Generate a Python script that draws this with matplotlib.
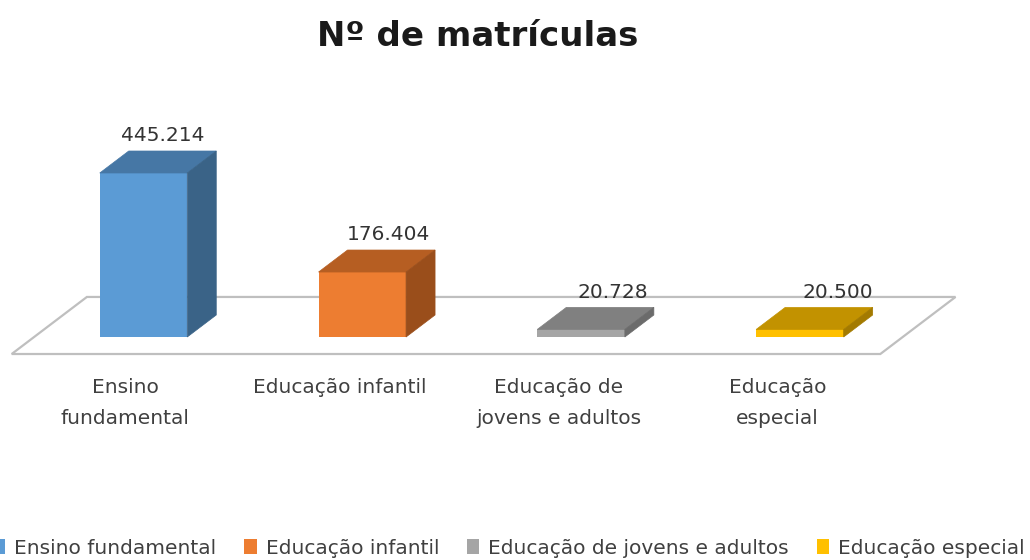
import matplotlib
matplotlib.use("Agg")
import matplotlib.pyplot as plt
from matplotlib.patches import Polygon, Patch

# ---------------- data ----------------
categories = ["Ensino fundamental", "Educação infantil",
              "Educação de jovens e adultos", "Educação especial"]
axis_labels = ["Ensino\nfundamental", "Educação infantil",
               "Educação de\njovens e adultos", "Educação\nespecial"]
values = [445214, 176404, 20728, 20500]
value_labels = ["445.214", "176.404", "20.728", "20.500"]

front_colors = ["#5B9BD5", "#ED7D31", "#A5A5A5", "#FFC000"]
top_colors = ["#4677A5", "#B65E22", "#808080", "#C29200"]
side_colors = ["#3A6387", "#9A4E1B", "#6B6B6B", "#A37A00"]

# ---------------- layout (pixels) ----------------
W, H, DPI = 1030, 560, 100
x0_px, step_px = 143.5, 218.8          # first category centre, spacing
base_px = 337.0                          # pixel row of value 0 (front)
px_per_unit = 164.0 / 445214.0           # vertical scale
depth_px = (29.0, 22.0)                  # bar depth offset (right, up)
bar_width = 0.4

fig = plt.figure(figsize=(W / DPI, H / DPI), dpi=DPI)
ax = fig.add_axes([0, 0, 1, 1])
ax.set_axis_off()
ax.set_xlim(-x0_px / step_px, (W - x0_px) / step_px)
ax.set_ylim((base_px - H) / px_per_unit, base_px / px_per_unit)

ddx = depth_px[0] / step_px
ddy = depth_px[1] / px_per_unit


def P(x, y, d):
    """point at category position x, value y, depth d (in bar depths)"""
    return (x + d * ddx, y + d * ddy)


# floor
n = len(values)
f_front, f_back = -0.773, 1.82
floor_left, floor_right = -0.5, n - 0.53
floor = Polygon([P(floor_left, 0, f_front), P(floor_right, 0, f_front),
                 P(floor_right, 0, f_back), P(floor_left, 0, f_back)],
                closed=True, facecolor="white", edgecolor="#BFBFBF",
                linewidth=1.6, zorder=1)
ax.add_patch(floor)

# bars
xs = list(range(n))
ax.bar(xs, values, width=bar_width, color=front_colors, zorder=3,
       linewidth=0)
for i, v in enumerate(values):
    l, r = i - bar_width / 2, i + bar_width / 2
    ax.add_patch(Polygon([P(l, v, 0), P(r, v, 0), P(r, v, 1), P(l, v, 1)],
                         closed=True, facecolor=top_colors[i],
                         edgecolor=top_colors[i], linewidth=0.5, zorder=3))
    ax.add_patch(Polygon([P(r, 0, 0), P(r, v, 0), P(r, v, 1), P(r, 0, 1)],
                         closed=True, facecolor=side_colors[i],
                         edgecolor=side_colors[i], linewidth=0.5, zorder=3))
    # value label
    lx, ly = P(i, v, 1)
    ax.annotate(value_labels[i], (lx, ly),
                xytext=((i - 1.5) * 4.5, 7), textcoords="offset points",
                ha="center", va="baseline", fontsize=14.5, color="#333333",
                zorder=5)
    # category label
    cx, cy = P(i, 0, f_front)
    ax.annotate(axis_labels[i], (cx, cy), xytext=(3 if i == 0 else 0, -17),
                textcoords="offset points", ha="center", va="top",
                fontsize=14.5, color="#404040", linespacing=1.8)

# title
fig.text(478 / W, 1 - 36 / H, "Nº de matrículas", ha="center", va="center",
         fontsize=24.5, fontweight="bold", color="#1A1A1A")

# legend
handles = [Patch(facecolor=c, edgecolor="none") for c in front_colors]
fig.legend(handles, categories, loc="center", ncol=4, frameon=False,
           bbox_to_anchor=(509 / W, 1 - 548 / H), fontsize=14.5,
           handlelength=0.6, handleheight=0.75, handletextpad=0.45,
           columnspacing=1.4, labelcolor="#404040")

fig.savefig("out.png", dpi=DPI)
